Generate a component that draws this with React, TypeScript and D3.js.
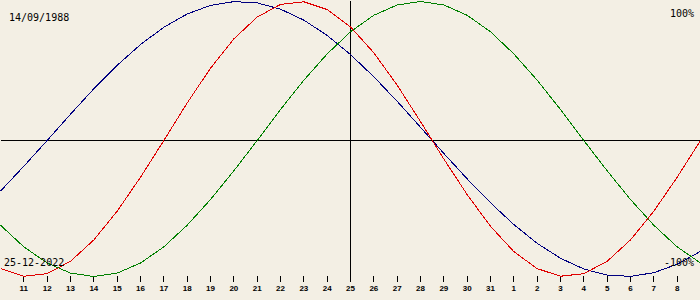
import React from "react";
import * as d3 from "d3";

// Day offsets relative to the target date (25-12-2022): -15 .. +15
const offsets = d3.range(-15, 16);

// Tick labels for offsets -14 .. +14
const tickLabels = [
  "11", "12", "13", "14", "15", "16", "17", "18", "19", "20", "21", "22", "23", "24",
  "25",
  "26", "27", "28", "29", "30", "31", "1", "2", "3", "4", "5", "6", "7", "8",
];
const tickOffsets = d3.range(-14, 15);

// Physical (red), in percent, one value per day
const physical = [
  -94.2, -99.8, -97.9, -88.8, -73.1, -52.0, -27.0, 0, 27.0, 52.0, 73.1, 88.8, 97.9, 99.8, 94.2,
  81.7,
  63.1, 39.8, 13.6, -13.6, -39.8, -63.1, -81.7, -94.2, -99.8, -97.9, -88.8, -73.1, -52.0, -27.0, 0,
];
// Emotional (green)
const emotional = [
  -62.3, -78.2, -90.1, -97.5, -100, -97.5, -90.1, -78.2, -62.3, -43.4, -22.3, 0, 22.3, 43.4, 62.3,
  78.2,
  90.1, 97.5, 100, 97.5, 90.1, 78.2, 62.3, 43.4, 22.3, 0, -22.3, -43.4, -62.3, -78.2, -90.1,
];
// Intellectual (blue)
const intellectual = [
  -37.2, -18.9, 0, 18.9, 37.2, 54.1, 69.0, 81.5, 91.0, 97.2, 99.9, 99.0, 94.5, 86.6, 75.6,
  61.8,
  45.8, 28.2, 9.5, -9.5, -28.2, -45.8, -61.8, -75.6, -86.6, -94.5, -99.0, -99.9, -97.2, -91.0, -81.5,
];

const birthDate = "14/09/1988";
const targetDate = "25-12-2022";
const topLabel = "100%";
const bottomLabel = "-100%";

const series = [
  { name: "intellectual", values: intellectual, color: "#000080" },
  { name: "physical", values: physical, color: "#e00000" },
  { name: "emotional", values: emotional, color: "#008000" },
];

export default function App() {
  const W = 700;
  const H = 300;
  const x = d3.scaleLinear().domain([-15, 15]).range([0, 700]);
  const y = d3.scaleLinear().domain([-100, 0, 100]).range([276, 140, 1]);
  const line = d3
    .line<number>()
    .x((_, i) => x(offsets[i]))
    .y((d) => y(d));

  const mono = "'DejaVu Sans Mono', monospace";

  return (
    <svg
      width={W}
      height={H}
      style={{ position: "fixed", left: 0, top: 0, display: "block" }}
    >
      <rect x={0} y={0} width={W} height={H} fill="#f3efe4" />
      <g transform="translate(0.5,0.5)" shapeRendering="crispEdges">
        <line x1={0} x2={W} y1={y(0)} y2={y(0)} stroke="#000" strokeWidth={1} />
        <line x1={x(0)} x2={x(0)} y1={0} y2={281} stroke="#000" strokeWidth={1} />
        {tickOffsets.map((o) => (
          <line key={o} x1={x(o)} x2={x(o)} y1={275} y2={281} stroke="#000" strokeWidth={1} />
        ))}
        {series.map((s) => (
          <path key={s.name} d={line(s.values) || ""} fill="none" stroke={s.color} strokeWidth={1} />
        ))}
      </g>
      {tickOffsets.map((o, i) => (
        <text
          key={o}
          x={x(o) + 0.5}
          y={291}
          textAnchor="middle"
          fontFamily="'Liberation Sans', Arial, sans-serif"
          fontWeight="bold"
          fontSize={8}
          fill="#000"
        >
          {tickLabels[i]}
        </text>
      ))}
      <text x={9} y={21} fontFamily={mono} fontSize={10} fill="#000">
        {birthDate}
      </text>
      <text x={694} y={17} textAnchor="end" fontFamily={mono} fontSize={10} fill="#000">
        {topLabel}
      </text>
      <text x={4} y={265.5} fontFamily={mono} fontSize={10} fill="#000">
        {targetDate}
      </text>
      <text x={694} y={265.5} textAnchor="end" fontFamily={mono} fontSize={10} fill="#000">
        {bottomLabel}
      </text>
    </svg>
  );
}
